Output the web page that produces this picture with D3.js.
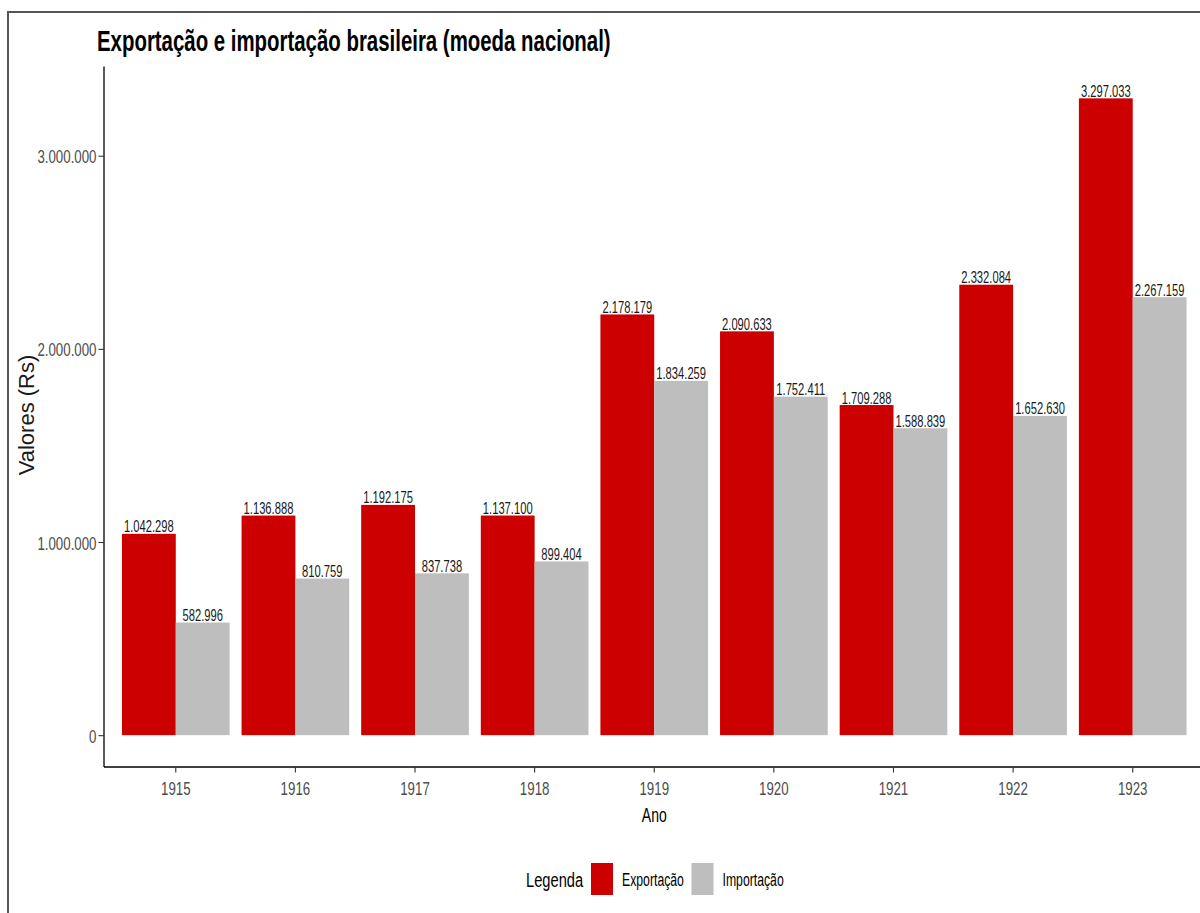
<!DOCTYPE html>
<html>
<head>
<meta charset="utf-8">
<script src="https://cdn.jsdelivr.net/npm/d3@7"></script>
<style>
  html, body { margin: 0; padding: 0; background: #ffffff; }
  svg { display: block; font-family: "Liberation Sans", Arial, sans-serif; }
</style>
</head>
<body>
<svg id="chart" width="1200" height="913"></svg>
<script>
// Brazilian exports and imports, national currency
const anos = ["1915", "1916", "1917", "1918", "1919", "1920", "1921", "1922", "1923"];
const exportacao = [1042298, 1136888, 1192175, 1137100, 2178179, 2090633, 1709288, 2332084, 3297033];
const importacao = [582996, 810759, 837738, 899404, 1834259, 1752411, 1588839, 1652630, 2267159];
const series = ["Exportação", "Importação"];
const cores = ["#CD0000", "#BEBEBE"];
const yTicks = [0, 1000000, 2000000, 3000000];

const titulo = "Exportação e importação brasileira (moeda nacional)";
const tituloX = "Ano";
const tituloY = "Valores (Rs)";
const tituloLegenda = "Legenda";

const rows = anos.map((a, i) => ({ ano: a, valores: [exportacao[i], importacao[i]] }));

const br = d3.formatLocale({ decimal: ",", thousands: ".", grouping: [3], currency: ["R$", ""] });
const fmt = br.format(",d");

// condensed look of the lettering
const K = 0.7;

const svg = d3.select("#chart");

// outer frame
svg.append("rect")
  .attr("x", 8).attr("y", 12)
  .attr("width", 1210).attr("height", 920)
  .attr("fill", "none").attr("stroke", "#555").attr("stroke-width", 2);

const panel = { left: 104, right: 1204.5, top: 66.5, bottom: 767 };

const yMax = d3.max(exportacao.concat(importacao));
const pad = yMax * 0.05;
const y = d3.scaleLinear().domain([-pad, yMax + pad]).range([panel.bottom, panel.top]);

const x = d3.scaleBand().domain(anos)
  .range([panel.left, panel.right])
  .paddingInner(0.1).paddingOuter(0.15);
const xs = d3.scaleBand().domain(series).range([0, x.bandwidth()]);
const color = d3.scaleOrdinal().domain(series).range(cores);

// bars
const grupos = svg.append("g").selectAll("g").data(rows).join("g")
  .attr("transform", d => `translate(${x(d.ano)},0)`);

grupos.selectAll("rect").data(d => d.valores.map((v, j) => ({ serie: series[j], v })))
  .join("rect")
  .attr("x", d => xs(d.serie))
  .attr("width", xs.bandwidth())
  .attr("y", d => y(d.v))
  .attr("height", d => y(0) - y(d.v))
  .attr("fill", d => color(d.serie));

// value labels
grupos.selectAll("text").data(d => d.valores.map((v, j) => ({ serie: series[j], v })))
  .join("text")
  .attr("transform", d => `translate(${xs(d.serie) + xs.bandwidth() / 2},${y(d.v) - 1.5}) scale(${K},1)`)
  .attr("text-anchor", "middle")
  .attr("font-size", 16)
  .attr("fill", "#1a1a1a")
  .text(d => fmt(d.v));

// y axis
const yAxis = svg.append("g")
  .attr("transform", `translate(${panel.left},0)`)
  .call(d3.axisLeft(y).tickValues(yTicks).tickFormat(fmt).tickSize(5.5).tickPadding(0));
yAxis.select(".domain").attr("stroke", "#000").attr("stroke-width", 1.3)
  .attr("d", `M0,${panel.top}V${panel.bottom}`);
yAxis.selectAll(".tick line").attr("stroke", "#333").attr("stroke-width", 1.1);
yAxis.selectAll(".tick text")
  .attr("x", null).attr("dy", null)
  .attr("transform", `translate(-7.5,7) scale(${K},1)`)
  .attr("font-family", null).attr("font-size", 19).attr("fill", "#4d4d4d");

// x axis
const xAxis = svg.append("g")
  .attr("transform", `translate(0,${panel.bottom})`)
  .call(d3.axisBottom(x).tickSize(5.5).tickPadding(0));
xAxis.select(".domain").attr("stroke", "#000").attr("stroke-width", 1.3)
  .attr("d", `M${panel.left},0H${panel.right}`);
xAxis.selectAll(".tick line").attr("stroke", "#333").attr("stroke-width", 1.1);
xAxis.selectAll(".tick text")
  .attr("y", null).attr("dy", null)
  .attr("transform", `translate(0,27.5) scale(${K},1)`)
  .attr("font-family", null).attr("font-size", 19).attr("fill", "#4d4d4d");

// axis titles
svg.append("text")
  .attr("transform", `translate(${(panel.left + panel.right) / 2},822) scale(${K},1)`)
  .attr("text-anchor", "middle").attr("font-size", 20).attr("fill", "#000")
  .text(tituloX);

svg.append("text")
  .attr("transform", `translate(34,415) rotate(-90)`)
  .attr("text-anchor", "middle").attr("font-size", 22).attr("fill", "#1a1a1a")
  .text(tituloY);

// title
const t = svg.append("text")
  .attr("font-size", 28).attr("font-weight", "bold").attr("fill", "#000")
  .text(titulo);
const tw = t.node().getComputedTextLength();
t.attr("transform", `translate(97,51) scale(${514 / tw},1.03)`);

// legend
const leg = svg.append("g");
leg.append("text")
  .attr("transform", `translate(526,887) scale(${K},1)`)
  .attr("font-size", 21).attr("fill", "#000")
  .text(tituloLegenda);
const legX = [591, 691.5];
series.forEach((s, i) => {
  leg.append("rect")
    .attr("x", legX[i]).attr("y", 863)
    .attr("width", 22).attr("height", 32)
    .attr("fill", color(s));
  leg.append("text")
    .attr("transform", `translate(${legX[i] + 31},886) scale(${K},1)`)
    .attr("font-size", 17.5).attr("fill", "#000")
    .text(s);
});
</script>
</body>
</html>
